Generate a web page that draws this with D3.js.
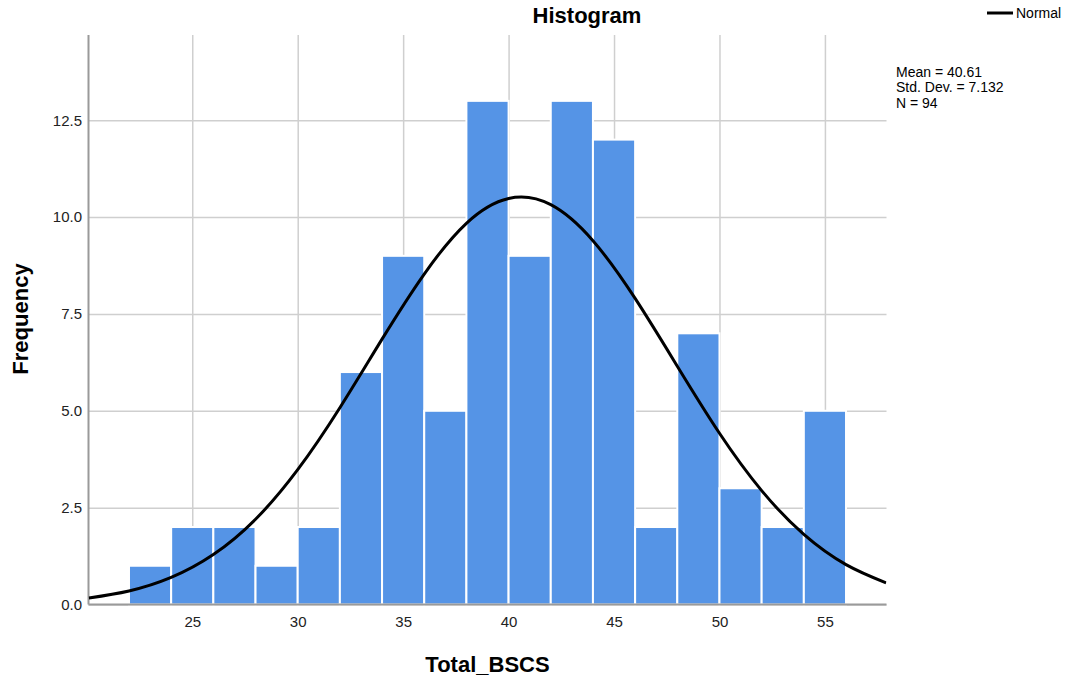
<!DOCTYPE html>
<html>
<head>
<meta charset="utf-8">
<script src="https://cdn.jsdelivr.net/npm/d3@7"></script>
<style>
    body { margin: 0; background: #fff; }
    #chart { width: 1069px; height: 682px; }
    text { font-family: "Liberation Sans", Arial, sans-serif; }
</style>
</head>
<body>
<div id="chart"></div>
<script>
// histogram bins (width 2) and counts
let binStarts = [22, 24, 26, 28, 30, 32, 34, 36, 38, 40, 42, 44, 46, 48, 50, 52, 54];
let counts    = [1, 2, 2, 1, 2, 6, 9, 5, 13, 9, 13, 12, 2, 7, 3, 2, 5];
let binWidth = 2;

// normal curve, points
let curveX = [20.1, 22, 24, 26, 28, 30, 32, 34, 36, 38, 40, 42, 44, 46, 48, 50, 52, 54, 56, 57.9];
let curveY = [0.17, 0.35, 0.70, 1.29, 2.20, 3.48, 5.08, 6.85, 8.53, 9.84, 10.48, 10.32, 9.39, 7.90, 6.15, 4.42, 2.94, 1.81, 1.03, 0.56];

let xTicks = [25, 30, 35, 40, 45, 50, 55];
let yTicks = [0, 2.5, 5, 7.5, 10, 12.5];
let statsLines = ["Mean = 40.61", "Std. Dev. = 7.132", "N = 94"];

class Histogram {
    constructor(parentElement) {
        this.parentElement = parentElement;
        this.initVis();
    }

    initVis() {
        let vis = this;
        vis.margin = {top: 35, right: 182.5, bottom: 77.5, left: 88.5};
        vis.width = 1069 - vis.margin.left - vis.margin.right;
        vis.height = 682 - vis.margin.top - vis.margin.bottom;

        vis.svg = d3.select("#" + vis.parentElement).append("svg")
            .attr("width", 1069)
            .attr("height", 682);

        vis.g = vis.svg.append("g")
            .attr("transform", "translate(" + vis.margin.left + "," + vis.margin.top + ")");

        vis.x = d3.scaleLinear().domain([20.08, 57.92]).range([0, vis.width]);
        vis.y = d3.scaleLinear().domain([0, 14.7]).range([vis.height, 0]);

        // grid + tick labels
        vis.g.append("g")
            .attr("class", "x-axis")
            .attr("transform", "translate(0," + vis.height + ")")
            .call(d3.axisBottom(vis.x).tickValues(xTicks).tickSize(-vis.height).tickPadding(12))
            .call(g => g.select(".domain").remove());

        vis.g.append("g")
            .attr("class", "y-axis")
            .call(d3.axisLeft(vis.y).tickValues(yTicks).tickFormat(d3.format(".1f")).tickSize(-vis.width).tickPadding(6.5))
            .call(g => g.select(".domain").remove());

        vis.g.selectAll(".tick line")
            .attr("stroke", "#cfcfcf")
            .attr("stroke-width", 1.5);
        vis.g.selectAll(".tick text")
            .attr("fill", "#222")
            .style("font-size", "15px");

        // bars
        let bins = binStarts.map((b, i) => ({x0: b, x1: b + binWidth, n: counts[i]}));
        vis.g.selectAll("rect.bar")
            .data(bins)
            .enter()
            .append("rect")
            .attr("class", "bar")
            .attr("x", d => vis.x(d.x0))
            .attr("width", d => vis.x(d.x1) - vis.x(d.x0))
            .attr("y", d => vis.y(d.n))
            .attr("height", d => vis.y(0) - vis.y(d.n))
            .attr("fill", "#5594e6")
            .attr("stroke", "#fff")
            .attr("stroke-width", 2);

        // axis lines
        vis.g.append("line")
            .attr("x1", 0).attr("x2", 0)
            .attr("y1", 0).attr("y2", vis.height)
            .attr("stroke", "#9a9a9a").attr("stroke-width", 2);
        vis.g.append("line")
            .attr("x1", 0).attr("x2", vis.width)
            .attr("y1", vis.height).attr("y2", vis.height)
            .attr("stroke", "#9a9a9a").attr("stroke-width", 2);

        // normal curve
        vis.g.append("clipPath").attr("id", "plot-clip")
            .append("rect").attr("width", vis.width).attr("height", vis.height);

        let line = d3.line()
            .x(d => vis.x(d[0]))
            .y(d => vis.y(d[1]))
            .curve(d3.curveNatural);

        vis.g.append("path")
            .datum(curveX.map((v, i) => [v, curveY[i]]))
            .attr("clip-path", "url(#plot-clip)")
            .attr("d", line)
            .attr("fill", "none")
            .attr("stroke", "#000")
            .attr("stroke-width", 3);

        // titles
        vis.svg.append("text")
            .attr("x", 587).attr("y", 23)
            .attr("text-anchor", "middle")
            .style("font-size", "22px").style("font-weight", "bold")
            .text("Histogram");

        vis.svg.append("text")
            .attr("x", vis.margin.left + vis.width / 2).attr("y", 672)
            .attr("text-anchor", "middle")
            .style("font-size", "22px").style("font-weight", "bold")
            .text("Total_BSCS");

        vis.svg.append("text")
            .attr("transform", "translate(28,319) rotate(-90)")
            .attr("text-anchor", "middle")
            .style("font-size", "22px").style("font-weight", "bold")
            .text("Frequency");

        // legend
        vis.svg.append("line")
            .attr("x1", 987).attr("x2", 1013)
            .attr("y1", 13).attr("y2", 13)
            .attr("stroke", "#000").attr("stroke-width", 3);
        vis.svg.append("text")
            .attr("x", 1016).attr("y", 18)
            .style("font-size", "14px")
            .text("Normal");

        // stats box
        vis.svg.selectAll("text.stat")
            .data(statsLines)
            .enter()
            .append("text")
            .attr("class", "stat")
            .attr("x", 896)
            .attr("y", (d, i) => 77 + i * 15.3)
            .style("font-size", "14px")
            .text(d => d);
    }
}

new Histogram("chart");
</script>
</body>
</html>
